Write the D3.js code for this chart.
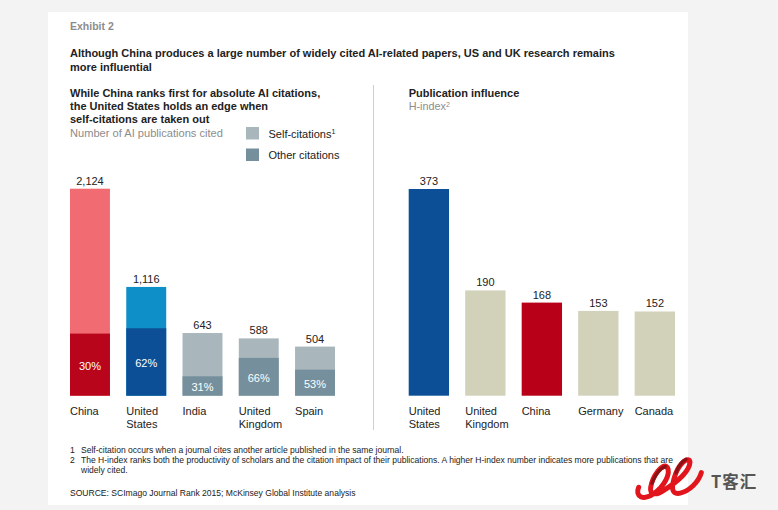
<!DOCTYPE html>
<html>
<head>
<meta charset="utf-8">
<script src="https://d3js.org/d3.v7.min.js"></script>
<style>
    html, body { margin: 0; padding: 0; background: #f3f3f3; }
    svg { display: block; }
    text { font-family: "Liberation Sans", Arial, sans-serif; fill: #222; }
    .bold { font-weight: bold; }
    .grey { fill: #8c8c8c; }
</style>
</head>
<body>
<svg id="svg" width="778" height="510"></svg>
<script>
    var citeCountries = ["China", "United States", "India", "United Kingdom", "Spain"];
    var citeTotals = [2124, 1116, 643, 588, 504];
    var otherShare = [30, 62, 31, 66, 53];
    var citeLight = ["#f06c72", "#0f8fc7", "#a9b7bd", "#a9b7bd", "#a9b7bd"];
    var citeDark = ["#b8051c", "#0c4f96", "#75909c", "#75909c", "#75909c"];

    var hCountries = ["United States", "United Kingdom", "China", "Germany", "Canada"];
    var hValues = [373, 190, 168, 153, 152];
    var hColors = ["#0c4f96", "#d2d2bb", "#b80018", "#d2d2bb", "#d2d2bb"];

    var legendLabels = ["Self-citations", "Other citations"];
    var legendColors = ["#a9b7bd", "#75909c"];

    var titleLines = [
        "Although China produces a large number of widely cited AI-related papers, US and UK research remains",
        "more influential"
    ];
    var leftHead = [
        "While China ranks first for absolute AI citations,",
        "the United States holds an edge when",
        "self-citations are taken out"
    ];
    var notes = [
        ["1", "Self-citation occurs when a journal cites another article published in the same journal."],
        ["2", "The H-index ranks both the productivity of scholars and the citation impact of their publications. A higher H-index number indicates more publications that are"],
        ["", "widely cited."]
    ];

    var svg = d3.select("#svg");
    var baseline = 395.7;

    svg.append("rect").attr("x", 48).attr("y", 12).attr("width", 640).attr("height", 493).attr("fill", "#fff");

    function addText(x, y, str, size, cls) {
        return svg.append("text").attr("x", x).attr("y", y).attr("font-size", size).attr("class", cls || "").text(str);
    }

    addText(70, 30, "Exhibit 2", 10.5, "bold grey");
    titleLines.forEach(function (t, i) { addText(70, 57 + i * 13.5, t, 11, "bold"); });
    leftHead.forEach(function (t, i) { addText(70, 96.5 + i * 13.4, t, 11, "bold"); });
    addText(70, 137, "Number of AI publications cited", 11.1, "grey");

    addText(408.7, 97, "Publication influence", 11, "bold");
    var hSub = addText(408.7, 110, "H-index", 10.8, "grey");
    hSub.append("tspan").attr("font-size", 7).attr("dy", -3.5).text("2");

    // divider between the two panels
    svg.append("line").attr("x1", 373.5).attr("x2", 373.5).attr("y1", 85).attr("y2", 430)
        .attr("stroke", "#cfcfcf").attr("stroke-width", 1);

    // legend
    var legend = svg.selectAll(".legend").data(legendLabels).enter().append("g")
        .attr("transform", function (d, i) { return "translate(246," + (127 + i * 21.5) + ")"; });
    legend.append("rect").attr("width", 13).attr("height", 12.5)
        .attr("fill", function (d, i) { return legendColors[i]; });
    legend.append("text").attr("x", 22.5).attr("y", 10.5).attr("font-size", 11)
        .text(function (d) { return d; })
        .filter(function (d, i) { return i == 0; })
        .append("tspan").attr("font-size", 7).attr("dy", -3.5).text("1");

    var y = d3.scaleLinear().domain([0, 2124]).range([baseline, 188.7]);
    var yH = d3.scaleLinear().domain([0, 373]).range([baseline, 189]);
    var xCite = d3.scaleBand().domain(citeCountries).range([70, 335]).paddingInner(0.29);
    var xH = d3.scaleBand().domain(hCountries).range([408.7, 675]).paddingInner(0.286);

    function categoryLabels(names, x) {
        names.forEach(function (name) {
            var parts = name.split(" ");
            var label = svg.append("text").attr("x", x(name)).attr("y", 415).attr("font-size", 11);
            parts.forEach(function (p, i) {
                label.append("tspan").attr("x", x(name)).attr("dy", i ? 13.4 : 0).text(p);
            });
        });
    }

    function valueLabels(names, values, x, scale) {
        svg.selectAll(null).data(names).enter().append("text")
            .attr("x", function (d) { return x(d) + x.bandwidth() / 2; })
            .attr("y", function (d, i) { return scale(values[i]) - 4; })
            .attr("text-anchor", "middle").attr("font-size", 11)
            .text(function (d, i) { return d3.format(",")(values[i]); });
    }

    // left chart: full bar is self-citations, lower part other citations
    svg.selectAll(null).data(citeCountries).enter().append("rect")
        .attr("x", function (d) { return xCite(d); })
        .attr("width", xCite.bandwidth())
        .attr("y", function (d, i) { return y(citeTotals[i]); })
        .attr("height", function (d, i) { return baseline - y(citeTotals[i]); })
        .attr("fill", function (d, i) { return citeLight[i]; });
    svg.selectAll(null).data(citeCountries).enter().append("rect")
        .attr("x", function (d) { return xCite(d); })
        .attr("width", xCite.bandwidth())
        .attr("y", function (d, i) { return y(citeTotals[i] * otherShare[i] / 100); })
        .attr("height", function (d, i) { return baseline - y(citeTotals[i] * otherShare[i] / 100); })
        .attr("fill", function (d, i) { return citeDark[i]; });
    svg.selectAll(null).data(citeCountries).enter().append("text")
        .attr("x", function (d) { return xCite(d) + xCite.bandwidth() / 2; })
        .attr("y", function (d, i) { return (y(citeTotals[i] * otherShare[i] / 100) + baseline) / 2 + 5.5; })
        .attr("text-anchor", "middle").attr("font-size", 11).style("fill", "#fff")
        .text(function (d, i) { return otherShare[i] + "%"; });
    valueLabels(citeCountries, citeTotals, xCite, y);
    categoryLabels(citeCountries, xCite);

    // right chart
    svg.selectAll(null).data(hCountries).enter().append("rect")
        .attr("x", function (d) { return xH(d); })
        .attr("width", xH.bandwidth())
        .attr("y", function (d, i) { return yH(hValues[i]); })
        .attr("height", function (d, i) { return baseline - yH(hValues[i]); })
        .attr("fill", function (d, i) { return hColors[i]; });
    valueLabels(hCountries, hValues, xH, yH);
    categoryLabels(hCountries, xH);

    // footnotes
    notes.forEach(function (n, i) {
        addText(70, 452.5 + i * 10, n[0], 8.55);
        addText(81, 452.5 + i * 10, n[1], 8.55);
    });
    addText(70, 496, "SOURCE: SCImago Journal Rank 2015; McKinsey Global Institute analysis", 8.55);

    // watermark, bottom right
    var logo = svg.append("g").attr("transform", "translate(600,450) scale(0.3333)")
        .attr("fill", "none").attr("stroke-linecap", "round");
    logo.append("path")
        .attr("d", "M116,112 C104,140 130,152 160,132 C195,108 212,70 202,52 C188,36 158,78 152,112 C148,136 170,136 190,122 C225,100 268,66 270,36 C268,18 240,36 226,74 C214,108 212,134 238,130 C268,124 296,96 304,68")
        .attr("stroke", "#e2151d").attr("stroke-width", 15);
    logo.append("path")
        .attr("d", "M156,100 C164,76 180,54 196,50 M228,68 C236,48 246,34 258,28")
        .attr("stroke", "#8a1216").attr("stroke-width", 10);
    svg.append("text").attr("x", 711).attr("y", 488).attr("font-size", 16.5).attr("font-weight", "bold")
        .attr("letter-spacing", 1).style("font-family", '"Noto Sans CJK SC"').style("fill", "#555")
        .text("T客汇");
</script>
</body>
</html>
